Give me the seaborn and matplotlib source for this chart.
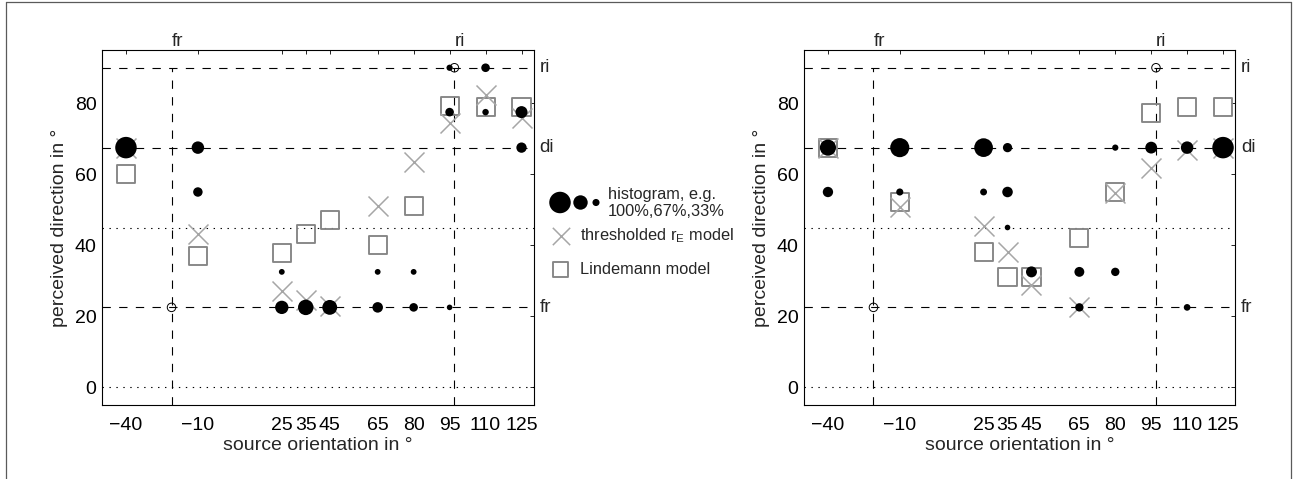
import numpy as np
import pandas as pd
import matplotlib
matplotlib.use("Agg")
import matplotlib.pyplot as plt
import seaborn as sns
from matplotlib.lines import Line2D

# ---------------- data ----------------
orientations = [-40, -10, 25, 35, 45, 65, 80, 95, 110, 125]
x_tick_labels = ["\u221240", "\u221210", "25", "35", "45", "65", "80", "95", "110", "125"]
y_ticks = [0, 20, 40, 60, 80]

ref_fr_x, ref_ri_x = -21, 97          # vertical dashed reference lines
ref_dashed_y = [22.5, 67.5, 90]       # fr, di, ri
ref_dotted_y = [0, 45]
right_label_text = ["ri", "di", "fr"]
right_label_y = [90, 67.5, 22.5]
open_circle_x = [ref_fr_x, ref_ri_x]
open_circle_y = [22.5, 90]

# left panel
left_hist_x = [-40, -10, -10, 25, 25, 35, 45, 65, 65, 80, 80, 95, 95, 95, 110, 110, 125, 125]
left_hist_y = [67.5, 67.5, 55, 32.5, 22.5, 22.5, 22.5, 32.5, 22.5, 32.5, 22.5, 90, 77.5, 22.5, 90, 77.5, 77.5, 67.5]
left_hist_frac = [1.0, 0.58, 0.44, 0.27, 0.62, 0.72, 0.69, 0.27, 0.49, 0.27, 0.40, 0.29, 0.40, 0.26, 0.40, 0.30, 0.56, 0.48]
left_rE = [67.5, 43.3, 27.0, 24.5, 23.0, 51.0, 63.5, 74.5, 82.3, 75.8]
left_lind = [60.2, 37.0, 37.9, 43.3, 47.1, 40.0, 51.1, 79.2, 78.9, 79.0]

# right panel
right_hist_x = [-40, -40, -10, -10, 25, 25, 35, 35, 35, 45, 65, 65, 80, 80, 95, 110, 110, 125]
right_hist_y = [67.5, 55, 67.5, 55, 67.5, 55, 67.5, 55, 45, 32.5, 32.5, 22.5, 67.5, 32.5, 67.5, 67.5, 22.5, 67.5]
right_hist_frac = [0.75, 0.48, 0.89, 0.33, 0.87, 0.32, 0.43, 0.49, 0.26, 0.51, 0.46, 0.39, 0.29, 0.39, 0.55, 0.58, 0.31, 1.0]
right_rE = [67.3, 50.8, 45.4, 38.1, 28.7, 22.5, 54.8, 61.7, 66.8, 67.3]
right_lind = [67.3, 52.2, 38.1, 31.0, 31.0, 42.1, 55.0, 77.2, 79.0, 79.0]

legend_fracs = [1.0, 0.67, 0.33]

# ---------------- style ----------------
sns.set_style("white")
plt.rcParams["font.family"] = ["Liberation Sans", "DejaVu Sans"]
plt.rcParams["mathtext.fontset"] = "custom"
plt.rcParams["mathtext.rm"] = "Liberation Sans"
plt.rcParams["mathtext.it"] = "Liberation Sans"
plt.rcParams["lines.scale_dashes"] = False

W, H = 1301, 479
fig = plt.figure(figsize=(W / 100, H / 100), dpi=100)
fig.patch.set_facecolor("white")

def px_axes(x0, y0, x1, y1):
    return fig.add_axes([x0 / W, 1 - y1 / H, (x1 - x0) / W, (y1 - y0) / H])

PX_PER_PT = 100 / 72
DOT_FULL_PX = 21.5
SQ_COLOR = "#858585"
X_COLOR = "#a6a6a6"
DASH = (0, (6, 6))
DOT = (0, (1, 4))
TICK_FS = 14
LABEL_FS = 14
SIDE_FS = 13.5
LEG_FS = 11.8

def dot_area(frac):
    d_pt = DOT_FULL_PX * np.asarray(frac) / PX_PER_PT
    return d_pt ** 2

def draw_panel(ax, hx, hy, hf, rE, lind):
    ax.set_xlim(-50, 130)
    ax.set_ylim(-5, 95)
    ymin = ax.get_ylim()[0]
    for y in ref_dashed_y:
        ax.axhline(y, color="black", lw=0.8, ls=DASH, zorder=1)
    for y in ref_dotted_y:
        ax.axhline(y, color="black", lw=0.8, ls=DOT, zorder=1)
    for x in (ref_fr_x, ref_ri_x):
        ax.plot([x, x], [ymin, ref_dashed_y[-1]], color="black", lw=0.8, ls=DASH, zorder=1)

    models = pd.DataFrame({"orientation": orientations, "rE": rE, "lind": lind})
    sns.scatterplot(data=models, x="orientation", y="lind", marker="s", s=13.0 ** 2,
                    facecolor="none", edgecolor=SQ_COLOR, linewidth=1.35, ax=ax,
                    zorder=2, legend=False)
    sns.scatterplot(data=models, x="orientation", y="rE", marker="x", s=14.4 ** 2,
                    color=X_COLOR, linewidth=1.1, ax=ax, zorder=3, legend=False)

    hist = pd.DataFrame({"orientation": hx, "perceived": hy, "frac": hf})
    sns.scatterplot(data=hist, x="orientation", y="perceived", s=dot_area(hist["frac"]),
                    color="black", linewidth=0, ax=ax, zorder=4, legend=False)

    circ = pd.DataFrame({"x": open_circle_x, "y": open_circle_y})
    sns.scatterplot(data=circ, x="x", y="y", s=(8.5 / PX_PER_PT) ** 2, facecolor="none",
                    edgecolor="black", linewidth=0.7, ax=ax, zorder=5, legend=False)

    ax.set_xticks(orientations)
    ax.set_xticklabels(x_tick_labels)
    ax.set_yticks(y_ticks)
    ax.tick_params(axis="both", which="both", direction="in", length=2.8, width=0.6,
                   top=True, right=True, labelsize=TICK_FS, colors="black")
    ax.tick_params(axis="x", pad=8.5)
    ax.tick_params(axis="y", pad=4)
    for sp in ax.spines.values():
        sp.set_visible(True)
        sp.set_linewidth(0.8)
        sp.set_color("black")
    ax.set_xlabel("source orientation in \u00b0", fontsize=LABEL_FS, labelpad=2.5)
    ax.set_ylabel("perceived direction in \u00b0", fontsize=LABEL_FS, labelpad=5)
    ax.grid(False)

    top = ax.get_xaxis_transform()
    ax.text(ref_fr_x, 1.012, "fr", transform=top, ha="left", va="baseline", fontsize=SIDE_FS)
    ax.text(ref_ri_x, 1.012, "ri", transform=top, ha="left", va="baseline", fontsize=SIDE_FS)
    side = ax.get_yaxis_transform()
    for t, y in zip(right_label_text, right_label_y):
        ax.text(1.014, y, t, transform=side, ha="left", va="center", fontsize=SIDE_FS)

ax_l = px_axes(102, 50, 533.5, 405)
ax_r = px_axes(804, 50, 1235, 405)
draw_panel(ax_l, left_hist_x, left_hist_y, left_hist_frac, left_rE, left_lind)
draw_panel(ax_r, right_hist_x, right_hist_y, right_hist_frac, right_rE, right_lind)

# ---------------- legend (between panels) ----------------
ax_leg = px_axes(545, 180, 745, 290)
ax_leg.set_xlim(545, 745)
ax_leg.set_ylim(290, 180)
ax_leg.axis("off")
leg_dots = pd.DataFrame({"x": [560, 580.5, 596], "y": [202.5, 202.5, 202.5], "frac": legend_fracs})
sns.scatterplot(data=leg_dots, x="x", y="y", s=dot_area(leg_dots["frac"]), color="black",
                linewidth=0, ax=ax_leg, legend=False, clip_on=False)
ax_leg.scatter([560.5], [236], marker="x", s=12.5 ** 2, color=X_COLOR, linewidth=1.1, clip_on=False)
ax_leg.scatter([560.5], [269.5], marker="s", s=11.0 ** 2, facecolor="none", edgecolor=SQ_COLOR,
               linewidth=1.35, clip_on=False)
ax_leg.text(608, 199, "histogram, e.g.", fontsize=LEG_FS, ha="left", va="baseline")
ax_leg.text(608, 216.5, "100%,67%,33%", fontsize=LEG_FS, ha="left", va="baseline")
ax_leg.text(580.5, 240.5, r"thresholded r$_\mathrm{E}$ model", fontsize=LEG_FS, ha="left", va="baseline")
ax_leg.text(580.5, 274.5, "Lindemann model", fontsize=LEG_FS, ha="left", va="baseline")

# ---------------- outer frame ----------------
fx = lambda px: px / W
fy = lambda py: 1 - py / H
frame_kw = dict(color="#5a5a5a", lw=0.9, transform=fig.transFigure)
fig.add_artist(Line2D([fx(6), fx(6)], [fy(2), fy(H + 5)], **frame_kw))
fig.add_artist(Line2D([fx(6), fx(1291)], [fy(2), fy(2)], **frame_kw))
fig.add_artist(Line2D([fx(1291), fx(1291)], [fy(2), fy(H + 5)], **frame_kw))

fig.savefig("out.png", dpi=100, facecolor="white")
